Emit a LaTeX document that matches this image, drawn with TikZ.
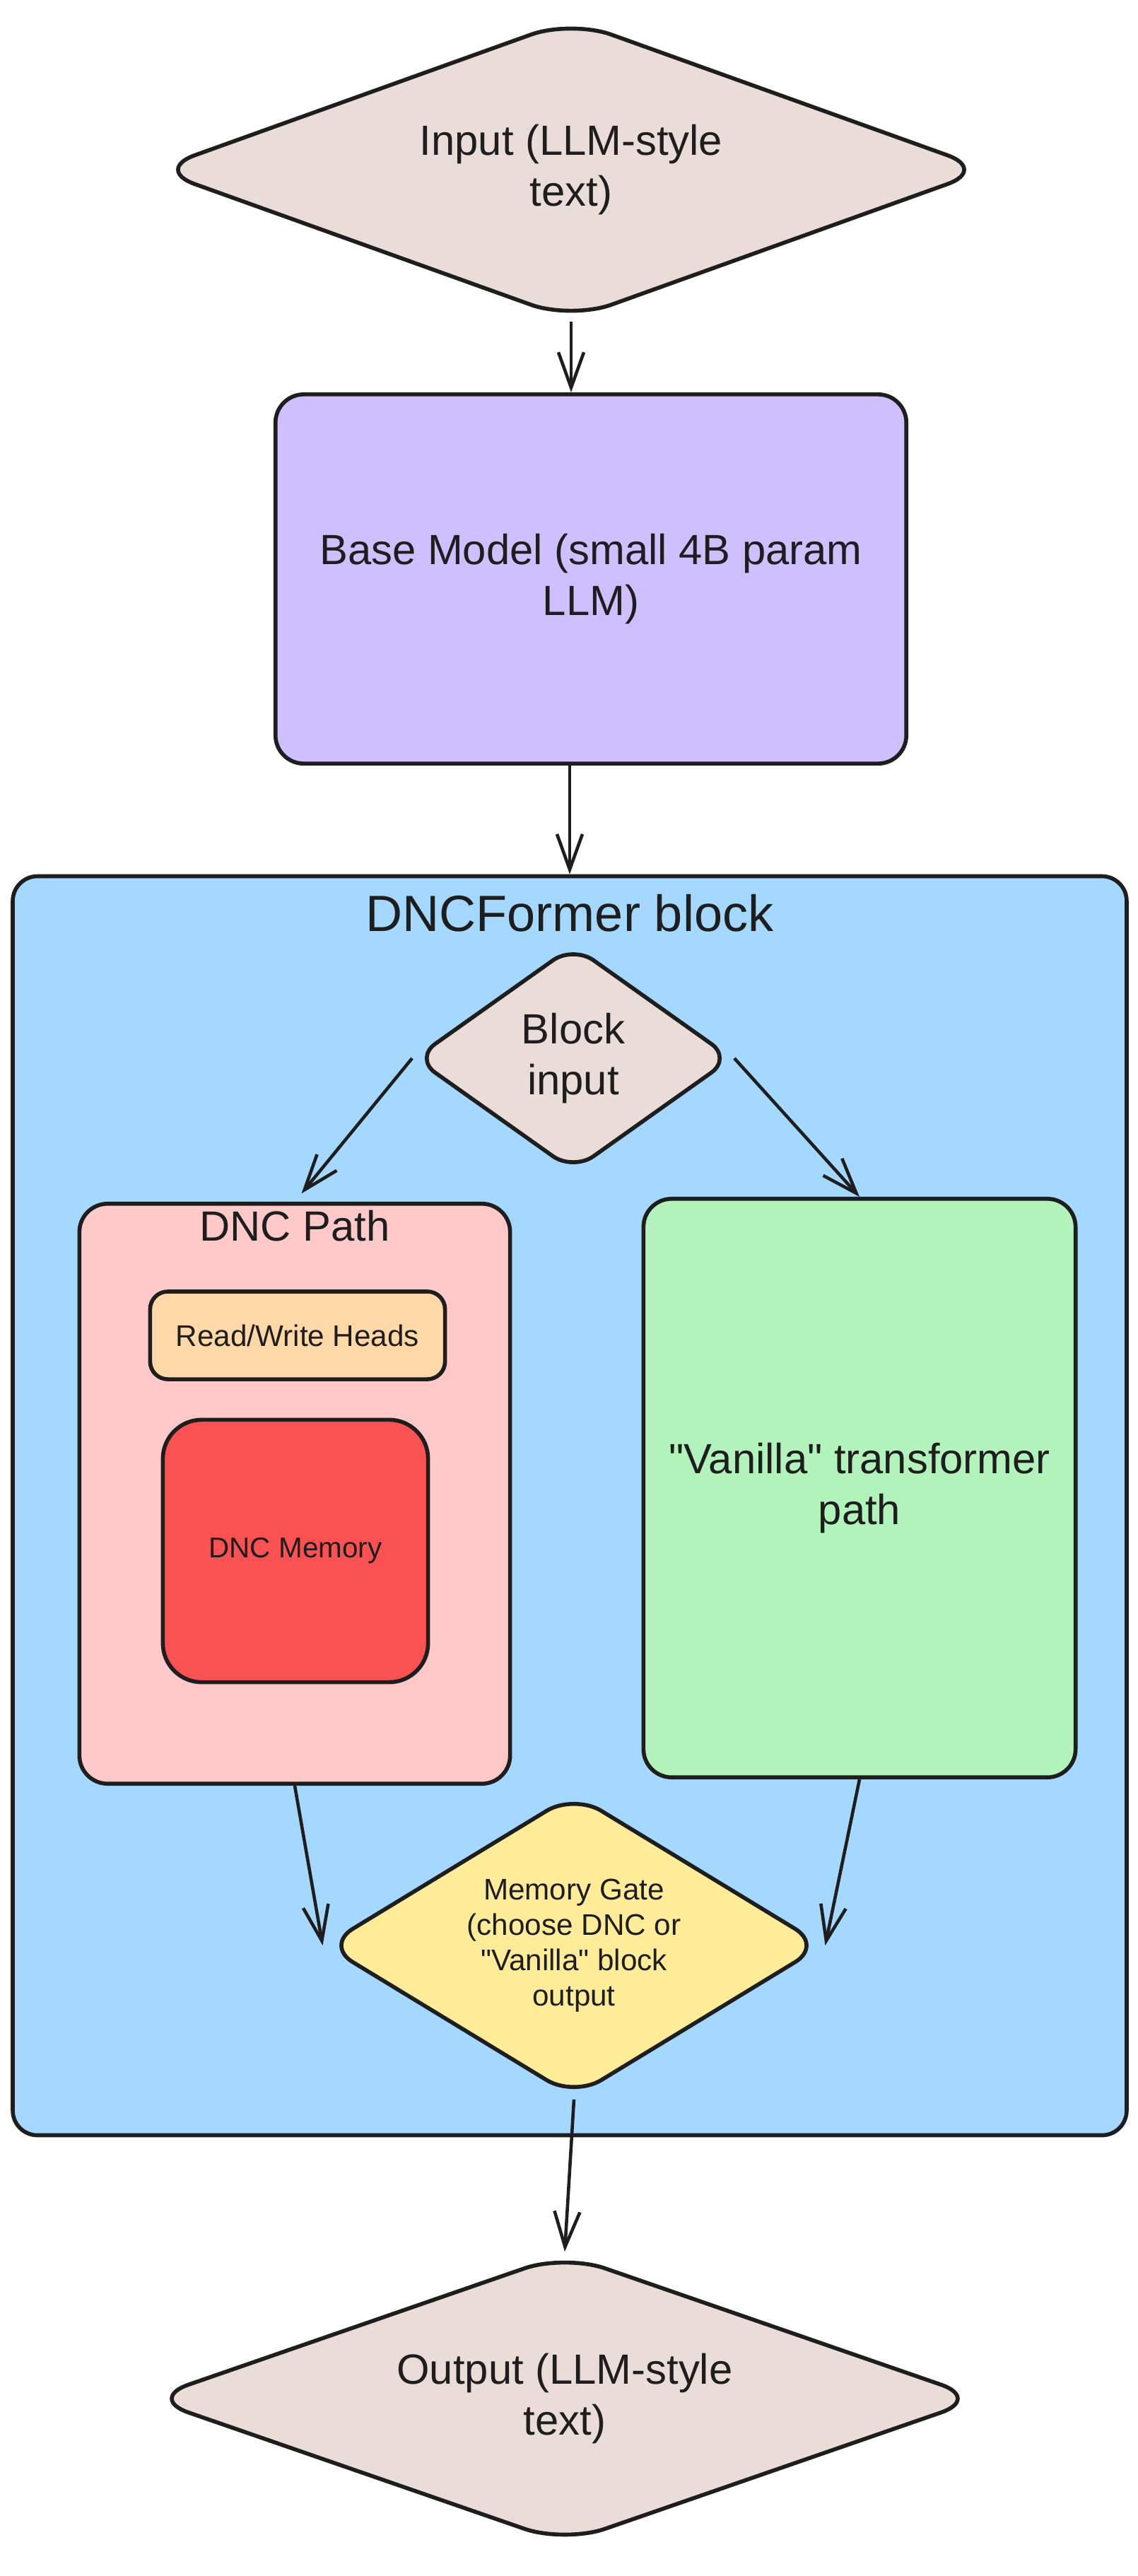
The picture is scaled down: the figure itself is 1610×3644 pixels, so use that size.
\documentclass[tikz,border=0pt]{standalone}
\usepackage{fontspec}
\setmainfont{Liberation Sans}
\usetikzlibrary{shapes.geometric,arrows.meta,positioning}

\definecolor{ink}{HTML}{1E1E1E}
\definecolor{taupe}{HTML}{EADDD7}
\definecolor{lilac}{HTML}{D0BFFF}
\definecolor{sky}{HTML}{A5D8FF}
\definecolor{rose}{HTML}{FFC9C9}
\definecolor{peach}{HTML}{FFD8A8}
\definecolor{scarlet}{HTML}{FA5252}
\definecolor{mint}{HTML}{B2F2BB}
\definecolor{butter}{HTML}{FFEC99}

\newcommand{\bigtxt}{\fontsize{17}{20.5}\selectfont}
\newcommand{\titletxt}{\fontsize{20.5}{24}\selectfont}
\newcommand{\smalltxt}{\fontsize{12}{14.2}\selectfont}
\newcommand{\tinytxt}{\fontsize{11.5}{14}\selectfont}

\begin{document}
\begin{tikzpicture}[x=0.01cm, y=-0.01cm, color=ink,
                    box/.style={draw, line width=1.6pt, rounded corners=0.4cm, align=center, inner sep=0pt},
                    dia/.style={diamond, draw, fill=taupe, line width=1.6pt, rounded corners=0.6cm,
                                align=center, inner sep=0pt, font=\bigtxt},
                    arrow/.style={-{Straight Barb[length=5mm,width=3.6mm]}, line width=1.3pt}]
\useasboundingbox (0,0) rectangle (1610,3644);
\node[dia, minimum width=11.8cm, minimum height=4.25cm, shape aspect=2.7] (inp) at (808,240) {Input (LLM-style\\text)};
\node[box, fill=lilac, minimum width=8.92cm, minimum height=5.22cm, font=\bigtxt] (base) at (836,819) {Base Model (small 4B param\\LLM)};
% DNCFormer block
\node[box, fill=sky, rounded corners=0.35cm, minimum width=15.75cm, minimum height=17.8cm] (blk) at (806,2130) {};
\node[font=\titletxt] (blktitle) at (806,1292) {DNCFormer block};
\node[dia, minimum width=4.5cm, minimum height=3.2cm, shape aspect=1.4, rounded corners=0.35cm] (bin) at (811,1497) {Block\\input};
\node[box, fill=rose, minimum width=6.09cm, minimum height=8.2cm] (path) at (417,2113) {};
\node[font=\bigtxt, below=0pt of path.north] (pathtitle) {DNC Path};
\node[box, fill=peach, rounded corners=0.25cm, minimum width=4.17cm, minimum height=1.24cm, font=\smalltxt] (heads) at (421,1889) {Read/Write Heads};
\node[box, fill=scarlet, rounded corners=0.55cm, minimum width=3.75cm, minimum height=3.71cm, font=\tinytxt] (mem) at (418,2194) {DNC Memory};
\node[box, fill=mint, minimum width=6.11cm, minimum height=8.18cm, font=\bigtxt] (van) at (1216,2105) {\textquotedbl Vanilla\textquotedbl{} transformer\\path};
\node[dia, fill=butter, font=\smalltxt, minimum width=7.05cm, minimum height=4.3cm, shape aspect=1.63, rounded corners=0.45cm] (gate) at (812,2752) {Memory Gate\\(choose DNC or\\\textquotedbl Vanilla\textquotedbl{} block\\output};
\node[dia, minimum width=11.8cm, minimum height=4.1cm, shape aspect=2.8] (out) at (799,3393) {Output (LLM-style\\text)};
\draw[arrow] (inp.south) -- (inp.south |- base.north);
\draw[arrow] (base.south -| blk.north) -- (blk.north);
\draw[arrow, shorten >=0.15cm] (bin.west) -- (path.north);
\draw[arrow] (bin.east) -- (van.north);
\draw[arrow] (path.south) -- (gate.west);
\draw[arrow] (van.south) -- (gate.east);
\draw[arrow] (gate.south) -- (out.north);
\end{tikzpicture}
\end{document}
